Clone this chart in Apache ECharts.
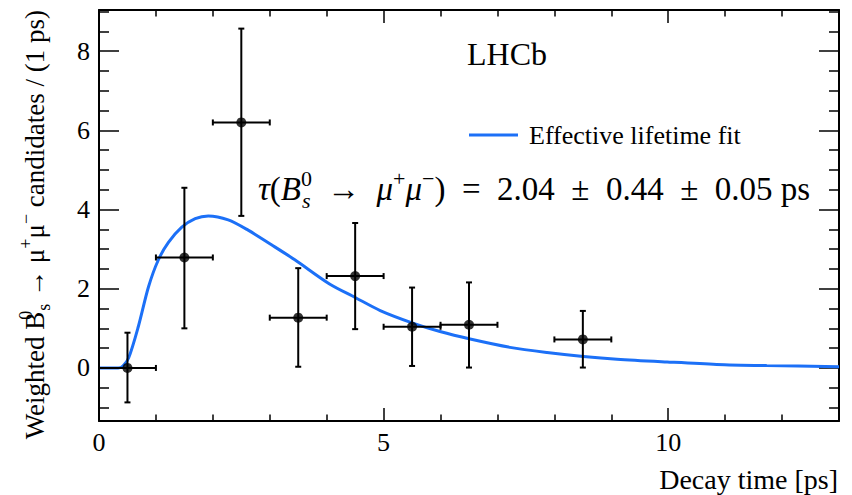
<!DOCTYPE html>
<html>
<head>
<meta charset="utf-8">
<script src="https://cdn.jsdelivr.net/npm/echarts@6/dist/echarts.min.js"></script>
<style>
  html, body { margin: 0; padding: 0; background: #fff; }
  #chart { width: 852px; height: 495px; }
</style>
</head>
<body>
<div id="chart"></div>
<script>
// measured points, 1 ps bins
var binCenters = [0.5, 1.5, 2.5, 3.5, 4.5, 5.5, 6.5, 8.5];
var binHalfWidth = 0.5;
var counts = [0.0, 2.79, 6.2, 1.27, 2.32, 1.04, 1.09, 0.72];
var errLow = [-0.87, 1.0, 3.84, 0.03, 0.98, 0.05, 0.01, 0.01];
var errHigh = [0.89, 4.55, 8.57, 2.52, 3.66, 2.03, 2.16, 1.44];

// fit curve
var fitTime = [0, 0.34, 0.42, 0.52, 0.69, 0.87, 1.04, 1.22, 1.45, 1.69, 1.92, 2.27, 2.62, 3.03, 3.44, 4.05, 4.5, 4.94, 5.5, 5.99, 6.52, 7.22, 7.87, 8.51, 9.1, 9.98, 10.85, 11.73, 13];
var fitValue = [0, 0, 0.05, 0.25, 1.04, 2.05, 2.72, 3.17, 3.55, 3.77, 3.84, 3.74, 3.48, 3.11, 2.73, 2.12, 1.78, 1.45, 1.14, 0.92, 0.73, 0.52, 0.39, 0.29, 0.22, 0.15, 0.09, 0.06, 0.03];

var xMajor = [0, 5, 10];
var xMinor = [1, 2, 3, 4, 6, 7, 8, 9, 11, 12];
var yMajor = [0, 2, 4, 6, 8];
var yMinor = [-1, -0.5, 0.5, 1, 1.5, 2.5, 3, 3.5, 4.5, 5, 5.5, 6.5, 7, 7.5, 8.5, 9];

var xMin = 0, xMax = 13;
var yMin = -1.34, yMax = 9.04;

var serif = 'Liberation Serif';
var en = '\u2002';

var fitData = fitTime.map(function (t, i) { return [t, fitValue[i]]; });
var pointData = binCenters.map(function (t, i) { return [t, counts[i]]; });
var errData = binCenters.map(function (t, i) {
  return [t, counts[i], t - binHalfWidth, t + binHalfWidth, errLow[i], errHigh[i]];
});

function xAxisDef(pos, values, len, withLine, withLabel) {
  return {
    type: 'value', position: pos, min: xMin, max: xMax,
    splitLine: { show: false },
    axisLine: { show: withLine, onZero: false, lineStyle: { color: '#000', width: 2 } },
    axisTick: { show: true, inside: true, length: len, customValues: values, lineStyle: { color: '#000', width: 1.5 } },
    axisLabel: withLabel ? { show: true, customValues: values, margin: 8, color: '#000', fontFamily: serif, fontSize: 26 } : { show: false }
  };
}

function yAxisDef(pos, values, len, withLine, withLabel) {
  return {
    type: 'value', position: pos, min: yMin, max: yMax,
    splitLine: { show: false },
    axisLine: { show: withLine, onZero: false, lineStyle: { color: '#000', width: 2 } },
    axisTick: { show: true, inside: true, length: len, customValues: values, lineStyle: { color: '#000', width: 1.5 } },
    axisLabel: withLabel ? { show: true, customValues: values, margin: 9, color: '#000', fontFamily: serif, fontSize: 26 } : { show: false }
  };
}

var chart = echarts.init(document.getElementById('chart'), null, { renderer: 'svg' });

var option = {
  animation: false,
  backgroundColor: '#fff',
  grid: { left: 99, right: 13, top: 10, bottom: 74 },
  xAxis: [
    xAxisDef('bottom', xMajor, 13, true, true),
    xAxisDef('bottom', xMinor, 6.5, false, false),
    xAxisDef('top', xMajor, 13, true, false),
    xAxisDef('top', xMinor, 6.5, false, false)
  ],
  yAxis: [
    yAxisDef('left', yMajor, 20, true, true),
    yAxisDef('left', yMinor, 10, false, false),
    yAxisDef('right', yMajor, 20, true, false),
    yAxisDef('right', yMinor, 10, false, false)
  ],
  legend: {
    left: 469, top: 122, padding: 0,
    data: ['Effective lifetime fit'],
    icon: 'rect', itemWidth: 49, itemHeight: 3,
    textStyle: { color: '#000', fontFamily: serif, fontSize: 26, padding: [0, 0, 0, 6] }
  },
  series: [
    {
      name: 'Effective lifetime fit',
      type: 'line',
      data: fitData,
      smooth: 0.3,
      showSymbol: false,
      symbol: 'none',
      lineStyle: { color: '#1c70f7', width: 3 },
      itemStyle: { color: '#1c70f7' },
      z: 3
    },
    {
      name: 'Data',
      type: 'custom',
      data: errData,
      z: 4,
      renderItem: function (params, api) {
        var c = api.coord([api.value(0), api.value(1)]);
        var l = api.coord([api.value(2), api.value(1)]);
        var r = api.coord([api.value(3), api.value(1)]);
        var lo = api.coord([api.value(0), api.value(4)]);
        var hi = api.coord([api.value(0), api.value(5)]);
        var st = { stroke: '#000', lineWidth: 2 };
        var cap = 3;
        return {
          type: 'group',
          children: [
            { type: 'line', shape: { x1: l[0], y1: c[1], x2: r[0], y2: c[1] }, style: st },
            { type: 'line', shape: { x1: c[0], y1: lo[1], x2: c[0], y2: hi[1] }, style: st },
            { type: 'line', shape: { x1: l[0], y1: c[1] - cap, x2: l[0], y2: c[1] + cap }, style: st },
            { type: 'line', shape: { x1: r[0], y1: c[1] - cap, x2: r[0], y2: c[1] + cap }, style: st },
            { type: 'line', shape: { x1: c[0] - cap, y1: lo[1], x2: c[0] + cap, y2: lo[1] }, style: st },
            { type: 'line', shape: { x1: c[0] - cap, y1: hi[1], x2: c[0] + cap, y2: hi[1] }, style: st }
          ]
        };
      }
    },
    {
      name: 'Points',
      type: 'scatter',
      data: pointData,
      symbol: 'circle',
      symbolSize: 10,
      itemStyle: { color: '#000' },
      z: 5
    }
  ],
  graphic: [
    {
      type: 'text', left: 467, top: 38,
      style: { text: 'LHCb', fill: '#000', font: '32px "Liberation Serif"' }
    },
    {
      type: 'text', x: 258, y: 189,
      style: {
        text: '{i|τ}{n|(}{i|B}{stk|0}{sub|s}{n|' + en + '→' + en + '}{i|μ}{sup|+}{i|μ}{sup|−}{n|)' + en + '=' + en + '2.04' + en + '±' + en + '0.44' + en + '±' + en + '0.05 ps}',
        verticalAlign: 'middle',
        rich: {
          n: { fontFamily: serif, fontSize: 33, lineHeight: 44, fill: '#000' },
          i: { fontFamily: serif, fontStyle: 'italic', fontSize: 33, lineHeight: 44, fill: '#000' },
          stk: { fontFamily: serif, fontSize: 22, lineHeight: 22, verticalAlign: 'top', width: 1, fill: '#000' },
          sup: { fontFamily: serif, fontSize: 22, lineHeight: 22, verticalAlign: 'top', fill: '#000' },
          sub: { fontFamily: serif, fontStyle: 'italic', fontSize: 22, lineHeight: 22, verticalAlign: 'bottom', fill: '#000' }
        }
      }
    },
    {
      type: 'text', x: 35, y: 10, rotation: Math.PI / 2,
      style: {
        text: '{n|Weighted B}{stk|0}{sub|s}{n| → μ}{sup|+}{n|μ}{sup|−}{n| candidates / (1 ps)}',
        align: 'right',
        verticalAlign: 'middle',
        rich: {
          n: { fontFamily: serif, fontSize: 27, lineHeight: 36, fill: '#000' },
          stk: { fontFamily: serif, fontSize: 18, lineHeight: 18, verticalAlign: 'top', width: 1, fill: '#000' },
          sup: { fontFamily: serif, fontSize: 18, lineHeight: 18, verticalAlign: 'top', fill: '#000' },
          sub: { fontFamily: serif, fontSize: 18, lineHeight: 18, verticalAlign: 'bottom', fill: '#000' }
        }
      }
    },
    {
      type: 'text', x: 838, y: 479,
      style: { text: 'Decay time [ps]', align: 'right', verticalAlign: 'middle', fill: '#000', font: '28px "Liberation Serif"' }
    }
  ]
};

chart.setOption(option);
</script>
</body>
</html>
